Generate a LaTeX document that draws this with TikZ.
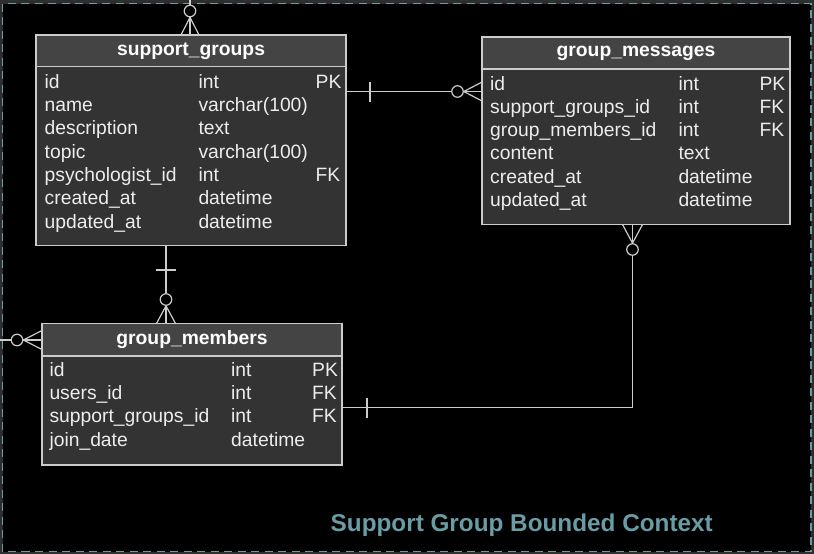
\documentclass[tikz,border=0pt]{standalone}
\usepackage{fontspec}
\setmainfont{Liberation Sans}
\usetikzlibrary{positioning}

\definecolor{outerbg}{HTML}{2E2E2E}
\definecolor{headfill}{HTML}{444444}
\definecolor{bodyfill}{HTML}{333333}
\definecolor{edgegray}{HTML}{CCCCCC}
\definecolor{contextteal}{HTML}{6A9CA6}

\begin{document}
\begin{tikzpicture}[
    x=1pt, y=-1pt,
    tablehead/.style={rectangle, draw=edgegray, fill=headfill, line width=1.2pt, anchor=north west, inner sep=0, outer sep=0, text=white, font=\bfseries\fontsize{19.3}{23}\selectfont},
    tablebody/.style={rectangle, draw=edgegray, fill=bodyfill, line width=1.2pt, anchor=north west, inner sep=0, outer sep=0},
    field/.style={anchor=base west, inner sep=0, text=white!93!black, font=\fontsize{19.3}{23}\selectfont},
    crowring/.style={circle, draw=edgegray, fill=black, line width=1.2pt, minimum size=11.5pt, inner sep=0},
    rel/.style={draw=edgegray, line width=1.2pt}
]
\useasboundingbox (0,0) rectangle (814,554);

% Background and bounded context frame
\fill[outerbg] (0,0) rectangle (814,554);
\draw[contextteal, fill=black, line width=1.2pt, dash pattern=on 8pt off 5.5pt] (2.5,3.5) rectangle (811,551.5);
\node[anchor=base west, inner sep=0, text=contextteal, font=\bfseries\fontsize{24.3}{28}\selectfont] (context-label) at (330.5,531.5) {Support Group Bounded Context};

% Tables
\node[tablehead, minimum width=310pt, minimum height=31.5pt] (sg-head) at (36,35) {support\_groups};
\node[tablebody, minimum width=310pt, minimum height=179pt] (sg) at (36,66.5) {};
\node[tablehead, minimum width=308pt, minimum height=32pt] (gms-head) at (482,37) {group\_messages};
\node[tablebody, minimum width=308pt, minimum height=155.5pt] (gms) at (482,69) {};
\node[tablehead, minimum width=300pt, minimum height=32.5pt] (gmem-head) at (42,323.5) {group\_members};
\node[tablebody, minimum width=300pt, minimum height=109pt] (gmem) at (42,356) {};

% Fields
\foreach \fname/\ftype/\fkey [count=\i] in {id/int/PK, name/varchar(100)/{}, description/text/{}, topic/varchar(100)/{}, psychologist\_id/int/FK, created\_at/datetime/{}, updated\_at/datetime/{}} {
    \node[field] (sg-name-\i) at (44.5,{88.3+23.3*(\i-1)}) {\fname};
    \node[field] (sg-type-\i) at (198.3,{88.3+23.3*(\i-1)}) {\ftype};
    \node[field] (sg-key-\i) at (315.5,{88.3+23.3*(\i-1)}) {\fkey};
}
\foreach \fname/\ftype/\fkey [count=\i] in {id/int/PK, support\_groups\_id/int/FK, group\_members\_id/int/FK, content/text/{}, created\_at/datetime/{}, updated\_at/datetime/{}} {
    \node[field] (gms-name-\i) at (490,{90+23.3*(\i-1)}) {\fname};
    \node[field] (gms-type-\i) at (678.3,{90+23.3*(\i-1)}) {\ftype};
    \node[field] (gms-key-\i) at (759.3,{90+23.3*(\i-1)}) {\fkey};
}
\foreach \fname/\ftype/\fkey [count=\i] in {id/int/PK, users\_id/int/FK, support\_groups\_id/int/FK, join\_date/datetime/{}} {
    \node[field] (gmem-name-\i) at (49.3,{376.3+23.3*(\i-1)}) {\fname};
    \node[field] (gmem-type-\i) at (231,{376.3+23.3*(\i-1)}) {\ftype};
    \node[field] (gmem-key-\i) at (312,{376.3+23.3*(\i-1)}) {\fkey};
}

% Relations
% support_groups -- outside (top)
\coordinate (sg-out) at (190,0);
\node[crowring] (sg-ring) at (190,11) {};
\draw[rel] (sg-out) -- (sg-ring);
\foreach \dx in {-9,0,9}
    \draw[rel] (sg-ring.south) -- ([xshift=\dx pt]sg-ring.south |- sg-head.north);

% support_groups -- group_messages
\coordinate (sg-pk) at (346,91.5);
\coordinate (sg-one) at (370,91.5);
\node[crowring] (gms-ring1) at (457.5,91.5) {};
\draw[rel] (sg-pk) -- (gms-ring1);
\draw[rel] (sg-one) +(0,-10) -- +(0,10);
\foreach \dy in {-9.5,0,9.5}
    \draw[rel] (gms-ring1.east) -- ([yshift=\dy pt]gms-ring1.east -| gms.west);

% support_groups -- group_members
\coordinate (sg-low) at (166,245.5);
\coordinate (sg-one2) at (166,270);
\node[crowring] (gmem-ring1) at (166,299.5) {};
\draw[rel] (sg-low) -- (gmem-ring1);
\draw[rel] (sg-one2) +(-10,0) -- +(10,0);
\foreach \dx in {-9.5,0,9.5}
    \draw[rel] (gmem-ring1.south) -- ([xshift=\dx pt]gmem-ring1.south |- gmem-head.north);

% group_members -- outside (left)
\coordinate (gmem-out) at (0,340);
\node[crowring] (gmem-ring2) at (17,340) {};
\draw[rel] (gmem-out) -- (gmem-ring2);
\foreach \dy in {-9.5,0,9.5}
    \draw[rel] (gmem-ring2.east) -- ([yshift=\dy pt]gmem-ring2.east -| gmem-head.west);

% group_members -- group_messages
\coordinate (gmem-pk) at (342,407.5);
\coordinate (gmem-one) at (367,407.5);
\node[crowring] (gms-ring2) at (632.5,249.5) {};
\draw[rel] (gmem-pk) -| (gms-ring2);
\draw[rel] (gmem-one) +(0,-10) -- +(0,10);
\foreach \dx in {-10,0,10}
    \draw[rel] (gms-ring2.north) -- ([xshift=\dx pt]gms-ring2.north |- gms.south);

\end{tikzpicture}
\end{document}
